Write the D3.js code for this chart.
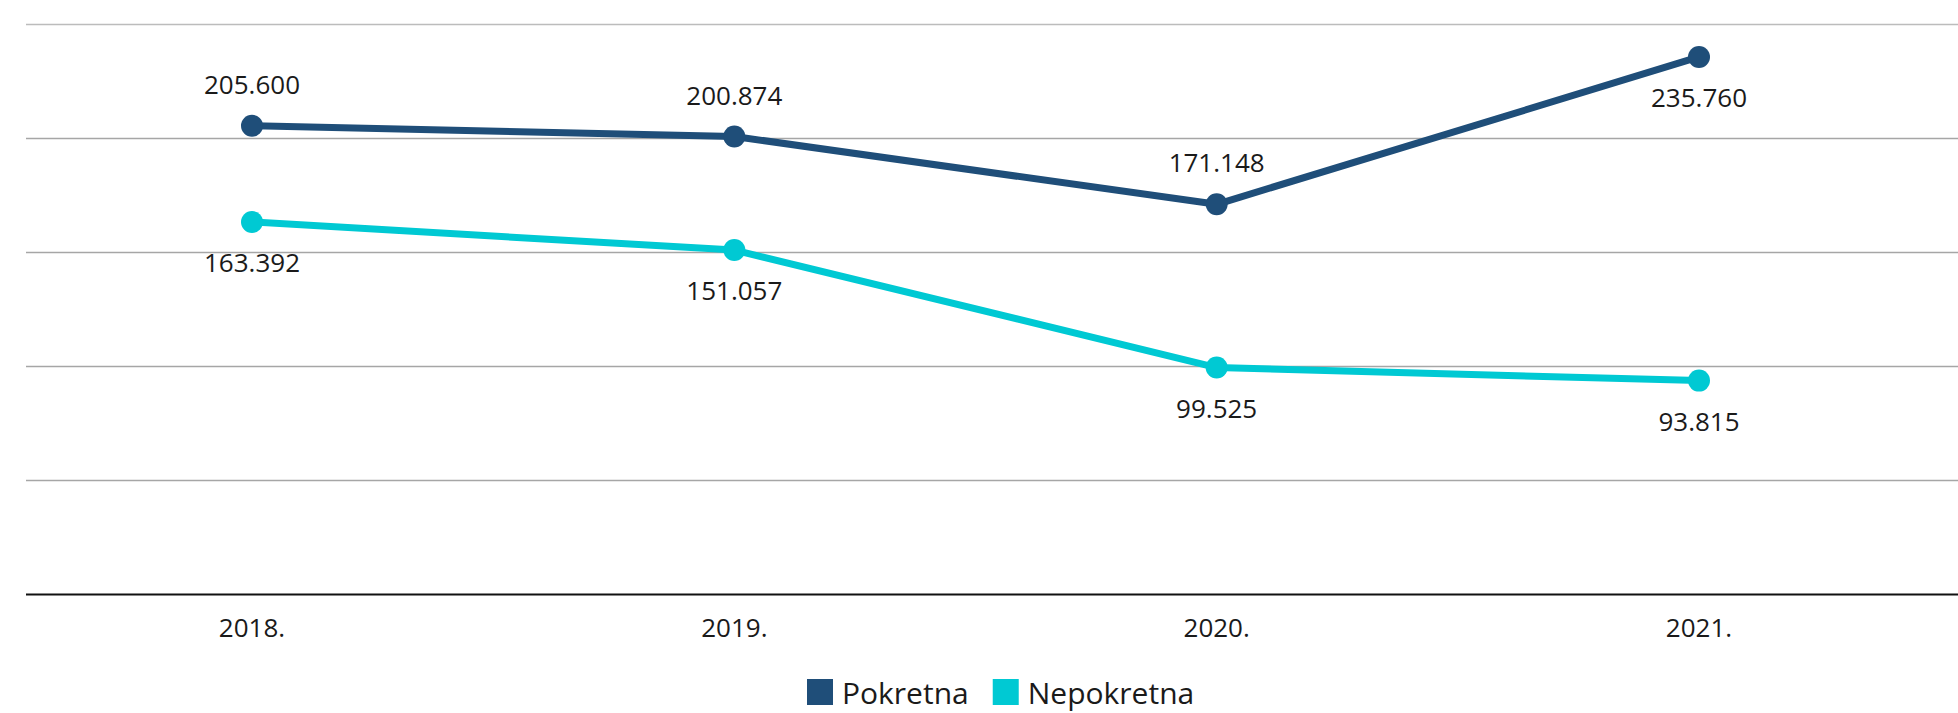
<!DOCTYPE html>
<html>
<head>
<meta charset="utf-8">
<script src="https://cdn.jsdelivr.net/npm/d3@7"></script>
<style>
    body { margin: 0; background: #fff; }
    svg { display: block; font-family: "Open Sans", sans-serif; }
</style>
</head>
<body>
<div id="chart"></div>
<script>
// Pokretna / Nepokretna line chart, 2018-2021

const years = ["2018.", "2019.", "2020.", "2021."];
const pokretna = [205600, 200874, 171148, 235760];
const nepokretna = [163392, 151057, 99525, 93815];
// where each data label sits relative to its point
const pokretnaLabelPos = ["top", "top", "top", "bottom"];
const nepokretnaLabelPos = ["bottom", "bottom", "bottom", "bottom"];
const yTicks = [0, 50000, 100000, 150000, 200000, 250000];
const seriesNames = ["Pokretna", "Nepokretna"];

const width = 1958;
const height = 713;
const colors = ["#1f4e79", "#00c9d3"];

const svg = d3.select("#chart")
    .append("svg")
    .attr("width", width)
    .attr("height", height);

const x = d3.scalePoint()
    .domain(years)
    .range([252, 1699]);

const y = d3.scaleLinear()
    .domain([0, 250000])
    .range([594.5, 24.5]);

const gridLeft = 26;

// gridlines
svg.append("g")
    .selectAll("line")
    .data(yTicks.filter(d => d > 0))
    .enter().append("line")
    .attr("x1", gridLeft)
    .attr("x2", width)
    .attr("y1", d => y(d))
    .attr("y2", d => y(d))
    .attr("stroke", (d, i) => i === yTicks.length - 2 ? "#bcbcbc" : "#a6a6a6")
    .attr("stroke-width", 1.3);

// x axis line
svg.append("line")
    .attr("x1", gridLeft)
    .attr("x2", width)
    .attr("y1", y(0))
    .attr("y2", y(0))
    .attr("stroke", "#111")
    .attr("stroke-width", 2);

// x labels
svg.append("g")
    .selectAll("text")
    .data(years)
    .enter().append("text")
    .attr("x", d => x(d))
    .attr("y", 637)
    .attr("text-anchor", "middle")
    .attr("font-size", 26)
    .attr("fill", "#1a1a1a")
    .text(d => d);

const fmt = v => d3.format(",")(v).replace(/,/g, ".");

const line = d3.line()
    .x((d, i) => x(years[i]))
    .y(d => y(d));

function drawSeries(values, color, labelPos) {
    const g = svg.append("g");
    g.append("path")
        .datum(values)
        .attr("d", line)
        .attr("fill", "none")
        .attr("stroke", color)
        .attr("stroke-width", 7)
        .attr("stroke-linejoin", "round");

    g.selectAll("circle")
        .data(values)
        .enter().append("circle")
        .attr("cx", (d, i) => x(years[i]))
        .attr("cy", d => y(d))
        .attr("r", 11)
        .attr("fill", color);

    g.selectAll("text")
        .data(values)
        .enter().append("text")
        .attr("x", (d, i) => x(years[i]))
        .attr("y", (d, i) => labelPos[i] === "top" ? y(d) - 32 : y(d) + 50)
        .attr("text-anchor", "middle")
        .attr("font-size", 26)
        .attr("fill", "#1a1a1a")
        .text(d => fmt(d));
}

drawSeries(pokretna, colors[0], pokretnaLabelPos);
drawSeries(nepokretna, colors[1], nepokretnaLabelPos);

// legend
const legend = svg.append("g");
let lx = 807;
seriesNames.forEach(function (name, i) {
    legend.append("rect")
        .attr("x", lx)
        .attr("y", 679)
        .attr("width", 26)
        .attr("height", 26)
        .attr("fill", colors[i]);
    const t = legend.append("text")
        .attr("x", lx + 35)
        .attr("y", 704)
        .attr("font-size", 30)
        .attr("fill", "#1a1a1a")
        .text(name);
    lx += 35 + t.node().getComputedTextLength() + 24;
});
</script>
</body>
</html>
